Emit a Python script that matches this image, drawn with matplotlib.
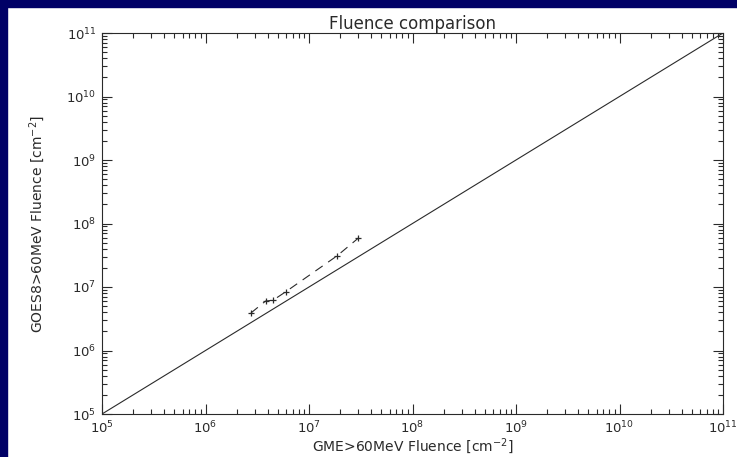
import numpy as np
import matplotlib
matplotlib.use("Agg")
import matplotlib.pyplot as plt
from matplotlib.patches import Rectangle

# GME vs GOES8 >60 MeV fluence (cm^-2)
gme_fluence = [2.75e6, 3.8e6, 4.5e6, 5.95e6, 1.87e7, 3.0e7]
goes_fluence = [3.9e6, 6.0e6, 6.2e6, 8.4e6, 3.1e7, 5.9e7]

# y = x reference line
ref_line = [1e5, 1e11]

decades = [5, 6, 7, 8, 9, 10, 11]
tick_labels = [r'$10^{%d}$' % d for d in decades]

plt.rcParams['mathtext.default'] = 'regular'
plt.rcParams['font.family'] = 'DejaVu Sans'

fig = plt.figure(figsize=(7.37, 4.57), dpi=100, facecolor='white')

# navy slide frame on the left and top
fig.patches.append(Rectangle((0, 0), 7 / 737, 1, transform=fig.transFigure,
                             color='#000066', zorder=0))
fig.patches.append(Rectangle((0, 1 - 7 / 457), 1, 7 / 457, transform=fig.transFigure,
                             color='#000066', zorder=0))

ax = fig.add_axes([102 / 737, 1 - 414 / 457, 621 / 737, 381 / 457])
ax.set_xscale('log')
ax.set_yscale('log')
ax.set_xlim(1e5, 1e11)
ax.set_ylim(1e5, 1e11)

ink = '#2a2a2a'
ax.plot(ref_line, ref_line, color=ink, linewidth=0.8)
ax.plot(gme_fluence, goes_fluence, color=ink, linewidth=0.8,
        linestyle=(0, (8, 6)), marker='+', markersize=5, markeredgewidth=0.9)

ax.set_xticks([10.0 ** d for d in decades])
ax.set_xticklabels(tick_labels)
ax.set_yticks([10.0 ** d for d in decades])
ax.set_yticklabels(tick_labels)

ax.tick_params(which='both', direction='in', top=True, right=True,
               colors=ink, labelsize=9.5, width=0.8)
ax.tick_params(which='major', length=7, pad=4)
ax.tick_params(which='minor', length=3.5)
for s in ax.spines.values():
    s.set_linewidth(0.8)
    s.set_color(ink)

ax.set_title('Fluence comparison', fontsize=12, color=ink, pad=3)
ax.set_xlabel('GME>60MeV Fluence [cm$^{-2}$]', fontsize=10, color=ink, labelpad=0)
ax.set_ylabel('GOES8>60MeV Fluence [cm$^{-2}$]', fontsize=10, color=ink, labelpad=14)

fig.savefig('out.png', dpi=100, facecolor=fig.get_facecolor())
